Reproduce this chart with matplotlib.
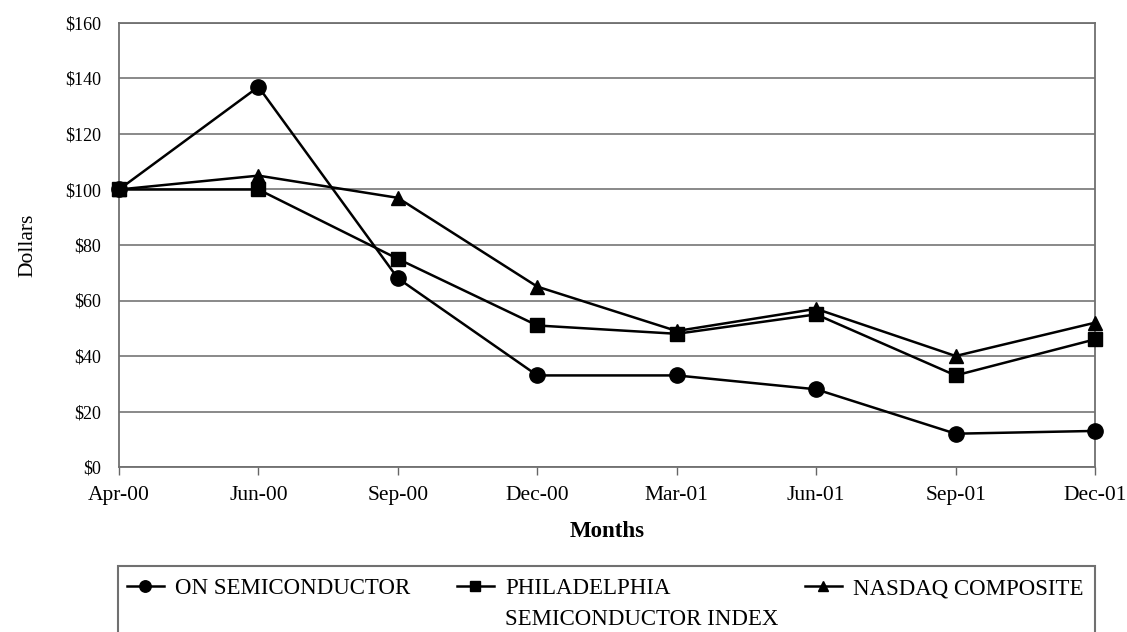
"""Cumulative total return chart: ON Semiconductor vs indices"""
import matplotlib
matplotlib.use('Agg')
import matplotlib.pyplot as plt
from matplotlib.patches import Rectangle
from matplotlib.ticker import FuncFormatter

months = ['Apr-00', 'Jun-00', 'Sep-00', 'Dec-00', 'Mar-01', 'Jun-01', 'Sep-01', 'Dec-01']
on_semi = [100, 137, 68, 33, 33, 28, 12, 13]
phlx_semi = [100, 100, 75, 51, 48, 55, 33, 46]
nasdaq = [100, 105, 97, 65, 49, 57, 40, 52]

plt.rcParams['font.family'] = ['Liberation Serif', 'DejaVu Serif']

W, H = 1127, 632
fig = plt.figure(figsize=(W / 100, H / 100), dpi=100)
ax = fig.add_axes([119 / W, 1 - 467 / H, (1095 - 119) / W, (467 - 23) / H])

x = list(range(len(months)))
line_on, = ax.plot(x, on_semi, color='black', lw=1.8, marker='o', markersize=11,
                   label='ON SEMICONDUCTOR', clip_on=False, zorder=3)
line_nq, = ax.plot(x, nasdaq, color='black', lw=1.8, marker='^', markersize=10.5,
                   label='NASDAQ COMPOSITE', clip_on=False, zorder=3)
line_ph, = ax.plot(x, phlx_semi, color='black', lw=1.8, marker='s', markersize=9.5,
                   label='PHILADELPHIA', clip_on=False, zorder=3)

ax.set_xlim(0, len(months) - 1)
ax.set_ylim(0, 160)
ax.set_yticks(range(0, 161, 20))
ax.yaxis.set_major_formatter(FuncFormatter(lambda v, p: '$%d' % v))
ax.set_xticks(x)
ax.set_xticklabels(months)
ax.tick_params(axis='y', length=0, pad=13, labelsize=13)
ax.tick_params(axis='x', length=6, width=1, direction='out', color='#666666',
               labelsize=15.5, pad=8)

ax.grid(axis='y', color='#808080', lw=1.3)
ax.set_axisbelow(True)
for side in ['left', 'bottom', 'right', 'top']:
    ax.spines[side].set_color('#707070')
    ax.spines[side].set_linewidth(1.3)

ax.set_ylabel('Dollars', fontsize=15.5, labelpad=20)
ax.set_xlabel('Months', fontsize=16.5, fontweight='bold', labelpad=11)

# legend box, its bottom edge runs off the picture
fig.add_artist(Rectangle((118 / W, -0.05), (1095 - 118) / W, 0.05 + 1 - 566 / H,
                         transform=fig.transFigure, fill=False,
                         edgecolor='#707070', lw=1.5))

# one legend per entry so the columns sit where the original has them
leg_x = [127, 457, 805]
leg_texts = []
for handle, lx in zip([line_on, line_ph, line_nq], leg_x):
    leg = fig.legend(handles=[handle], loc='upper left',
                     bbox_to_anchor=(lx / W, 1 - 578 / H), fontsize=16.5,
                     frameon=False, borderpad=0, handlelength=1.6,
                     handletextpad=0.5, borderaxespad=0, markerscale=0.75)
    leg_texts.append(leg.get_texts()[0])

fig.canvas.draw()
bb = leg_texts[1].get_window_extent()
fig.text(bb.x0 / W, (bb.y0 - 31) / H, 'SEMICONDUCTOR INDEX', fontsize=16.5,
         ha='left', va='bottom')

fig.savefig('out.png', dpi=100)
